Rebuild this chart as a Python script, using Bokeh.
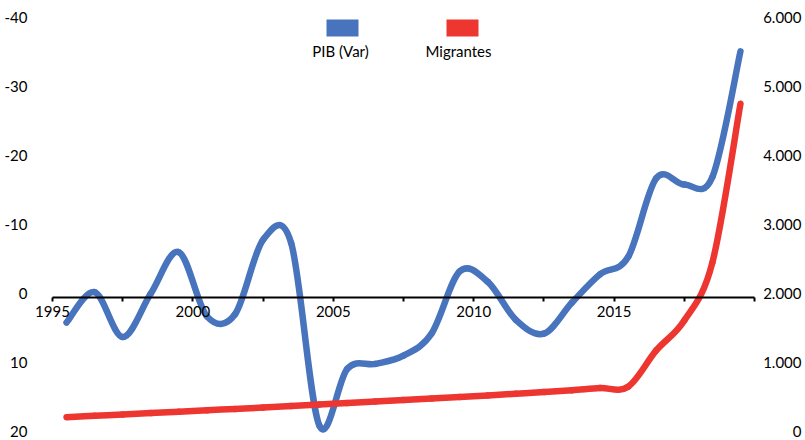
import numpy as np
from bokeh.plotting import figure
from bokeh.models import Range1d, FixedTicker, BoxAnnotation, Label, ColumnDataSource
from bokeh.core.properties import value
from bokeh.embed import file_html
from bokeh.resources import INLINE

# Annual series
years = list(range(1995, 2020))
pib_var = [3.7, -0.7, 5.8, -0.5, -6.5, 2.8, 2.5, -8.3, -7.8, 18.6,
           10.4, 9.7, 8.5, 5.3, -3.7, -2.2, 3.3, 5.3, 0.8, -3.3,
           -5.8, -17.2, -16.3, -17.4, -35.6]
migrantes = [258, 278, 298, 318, 338, 358, 378, 398, 420, 442,
             464, 486, 508, 530, 552, 574, 598, 622, 648, 680,
             700, 1225, 1660, 2500, 4800]

# Axis ticks and labels
x_ticks = [1995, 1997.5, 2000, 2002.5, 2005, 2007.5, 2010, 2012.5, 2015, 2017.5, 2020]
x_tick_labels = ["1995", "", "2000", "", "2005", "", "2010", "", "2015", "", ""]
left_ticks = [-40, -30, -20, -10, 0, 10, 20]
left_tick_labels = ["-40", "-30", "-20", "-10", "0", "10", "20"]
right_ticks = [0, 1000, 2000, 3000, 4000, 5000, 6000]
right_tick_labels = ["0", "1.000", "2.000", "3.000", "4.000", "5.000", "6.000"]

series_names = ["PIB (Var)", "Migrantes"]
BLUE = "#4874BD"
RED = "#EE3630"
FONT = "Lato"
FONT_SIZE = "15px"

W, H = 805, 440
AXIS_LEFT_PX = 52      # where 1995 sits
px_per_year = 28.08
px_per_unit = 6.9
zero_px = 296.5        # distance of the y=0 line from the top edge

x_start = 1995 - AXIS_LEFT_PX / px_per_year
x_end = 1995 + (W - AXIS_LEFT_PX) / px_per_year
y_top = -zero_px / px_per_unit
y_bottom = (H - zero_px) / px_per_unit


def px_to_year(px):
    return 1995 + (px - AXIS_LEFT_PX) / px_per_year


def to_right(v):
    # right axis: 0 at left value 20, 1000 per 10 units upward
    return (20 - v) * 100


p = figure(width=W, height=H, output_backend="svg", toolbar_location=None,
           x_range=Range1d(x_start, x_end), y_range=Range1d(y_bottom, y_top),
           min_border_left=0, min_border_right=0,
           min_border_top=0, min_border_bottom=0)
p.extra_y_ranges = {"right": Range1d(to_right(y_bottom), to_right(y_top))}
p.outline_line_color = None
p.background_fill_color = "white"
p.border_fill_color = "white"
p.grid.visible = False
p.yaxis.visible = False

# x axis drawn through y = 0
xa = p.xaxis[0]
xa.fixed_location = 0
xa.bounds = (1995, 2020)
xa.ticker = FixedTicker(ticks=x_ticks)
xa.major_label_overrides = {t: lab for t, lab in zip(x_ticks, x_tick_labels)}
xa.axis_line_color = "black"
xa.axis_line_width = 2
xa.major_tick_line_color = "black"
xa.major_tick_line_width = 2
xa.major_tick_in = 0
xa.major_tick_out = 4
xa.minor_tick_line_color = None
xa.major_label_standoff = 5
xa.major_label_text_font = FONT
xa.major_label_text_font_size = FONT_SIZE
xa.major_label_text_color = "black"


def smooth_segments(xs, ys):
    """Cubic Bezier control points (Catmull-Rom style) between consecutive points."""
    xs = np.asarray(xs, dtype=float)
    ys = np.asarray(ys, dtype=float)
    n = len(xs)
    xp = np.concatenate([[xs[0]], xs, [xs[-1]]])
    yp = np.concatenate([[ys[0]], ys, [ys[-1]]])
    return dict(
        x0=xp[1:n], y0=yp[1:n], x1=xp[2:n + 1], y1=yp[2:n + 1],
        cx0=xp[1:n] + (xp[2:n + 1] - xp[0:n - 1]) / 6,
        cy0=yp[1:n] + (yp[2:n + 1] - yp[0:n - 1]) / 6,
        cx1=xp[2:n + 1] - (xp[3:n + 2] - xp[1:n]) / 6,
        cy1=yp[2:n + 1] - (yp[3:n + 2] - yp[1:n]) / 6,
    )


x_mid = [y + 0.5 for y in years]

blue_src = ColumnDataSource(smooth_segments(x_mid, pib_var))
p.bezier(x0="x0", y0="y0", x1="x1", y1="y1", cx0="cx0", cy0="cy0", cx1="cx1", cy1="cy1",
         source=blue_src, line_color=BLUE, line_width=6.5, line_cap="round")

red_src = ColumnDataSource(smooth_segments(x_mid, migrantes))
p.bezier(x0="x0", y0="y0", x1="x1", y1="y1", cx0="cx0", cy0="cy0", cx1="cx1", cy1="cy1",
         source=red_src, line_color=RED, line_width=6.5, line_cap="round",
         y_range_name="right")

# value axes: labels only, right-aligned
p.text(x=[px_to_year(27)] * len(left_ticks), y=left_ticks, text=left_tick_labels,
       text_align="right", text_baseline="middle", y_offset=-4,
       text_font=value(FONT), text_font_size=FONT_SIZE, text_color="black")
p.text(x=[px_to_year(801)] * len(right_ticks), y=right_ticks, text=right_tick_labels,
       y_range_name="right", text_align="right", text_baseline="middle", y_offset=-4,
       text_font=value(FONT), text_font_size=FONT_SIZE, text_color="black")

# legend: swatch above its label
legend_items = [(series_names[0], BLUE, 326, 358, 340),
                (series_names[1], RED, 446, 478, 458)]
for name, color, l, r, cx in legend_items:
    p.add_layout(BoxAnnotation(left=px_to_year(l), right=px_to_year(r),
                               top=(19 - zero_px) / px_per_unit,
                               bottom=(36 - zero_px) / px_per_unit,
                               fill_color=color, fill_alpha=1, line_color=None))
    p.add_layout(Label(x=px_to_year(cx), y=(50 - zero_px) / px_per_unit, text=name,
                       text_align="center", text_baseline="middle", text_font=FONT,
                       text_font_size=FONT_SIZE, text_color="black"))

open("out.html", "w").write(file_html(p, INLINE))
